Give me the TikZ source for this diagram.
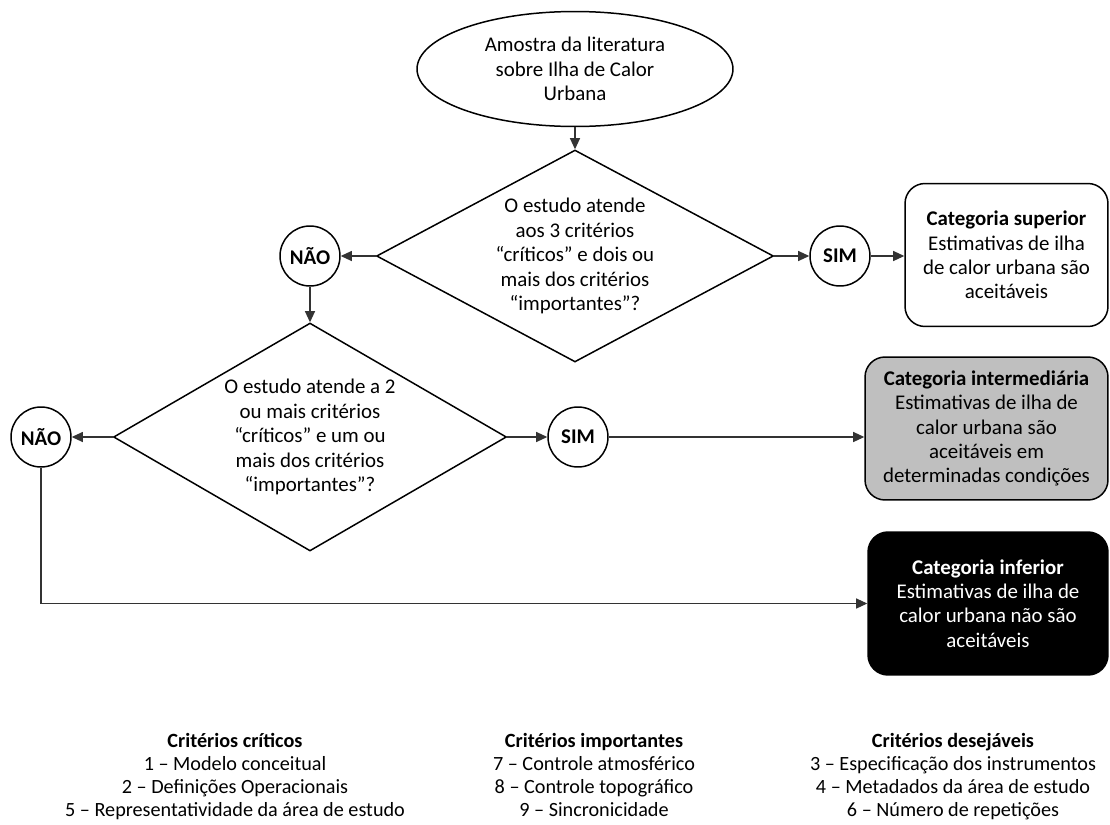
\documentclass[tikz,border=0pt]{standalone}
\usepackage{fontspec}
\setmainfont{Carlito}
\usetikzlibrary{shapes.geometric,arrows.meta}

\begin{document}
\begin{tikzpicture}[x=0.02cm, y=-0.02cm,
  font=\fontsize{11.9}{13.9}\selectfont,
  seta/.style={draw=black!80, line width=0.6pt, -{Triangle[length=6.3pt,width=5.7pt]}},
  decisao/.style={diamond, draw, line width=0.85pt, align=center, inner sep=0pt, shape aspect=1.8},
  resposta/.style={circle, draw, line width=0.85pt, minimum size=1.2cm, inner sep=0pt, font=\fontsize{11.9}{13.9}\selectfont\bfseries},
  categoria/.style={rectangle, rounded corners=0.4cm, draw, line width=0.85pt, align=center, inner sep=0pt, minimum height=2.86cm},
  legenda/.style={anchor=north, align=center, inner sep=0pt, font=\fontsize{11.5}{13.1}\selectfont}]
  \useasboundingbox (0,0) rectangle (1110,825);
  % fluxo principal
  \node[ellipse, draw, line width=0.85pt, align=center, inner sep=0pt, minimum width=6.32cm, minimum height=2.3cm] (amostra) at (575,69) {Amostra da literatura\\sobre Ilha de Calor\\Urbana};
  \node[decisao, minimum width=7.94cm, minimum height=4.24cm] (q1) at (575,256) {O estudo atende\\aos 3 critérios\\“críticos” e dois ou\\mais dos critérios\\“importantes”?};
  \node[resposta] (nao1) at (310,256) {NÃO};
  \node[resposta] (sim1) at (840,256) {SIM};
  \node[decisao, minimum width=7.86cm, minimum height=4.56cm] (q2) at (310,437) {O estudo atende a 2\\ou mais critérios\\“críticos” e um ou\\mais dos critérios\\“importantes”?};
  \node[resposta] (nao2) at (41,437) {NÃO};
  \node[resposta] (sim2) at (578,437) {SIM};
  % categorias
  \node[categoria, minimum width=4.06cm] (sup) at (1006.5,255) {\textbf{Categoria superior}\\Estimativas de ilha\\de calor urbana são\\aceitáveis};
  \node[categoria, minimum width=4.86cm, fill=black!25] (inter) at (986.5,428.5) {\textbf{Categoria intermediária}\\Estimativas de ilha de\\calor urbana são\\aceitáveis em\\determinadas condições};
  \node[categoria, minimum width=4.8cm, fill=black, text=white] (inf) at (988,603.5) {\textbf{Categoria inferior}\\Estimativas de ilha de\\calor urbana não são\\aceitáveis};
  % setas
  \draw[seta] (amostra) -- (q1);
  \draw[seta] (q1) -- (nao1);
  \draw[seta] (q1) -- (sim1);
  \draw[seta] (sim1) -- (sim1 -| sup.west);
  \draw[seta] (nao1) -- (q2);
  \draw[seta] (q2) -- (nao2);
  \draw[seta] (q2) -- (sim2);
  \draw[seta] (sim2) -- (sim2 -| inter.west);
  \draw[seta] (nao2) |- (inf);
  % legenda
  \node[legenda] (criticos) at (235,733) {\textbf{Critérios críticos}\\1 – Modelo conceitual\\2 – Definições Operacionais\\5 – Representatividade da área de estudo};
  \node[legenda] (importantes) at (594,733) {\textbf{Critérios importantes}\\7 – Controle atmosférico\\8 – Controle topográfico\\9 – Sincronicidade};
  \node[legenda] (desejaveis) at (953,733) {\textbf{Critérios desejáveis}\\3 – Especificação dos instrumentos\\4 – Metadados da área de estudo\\6 – Número de repetições};
\end{tikzpicture}
\end{document}
